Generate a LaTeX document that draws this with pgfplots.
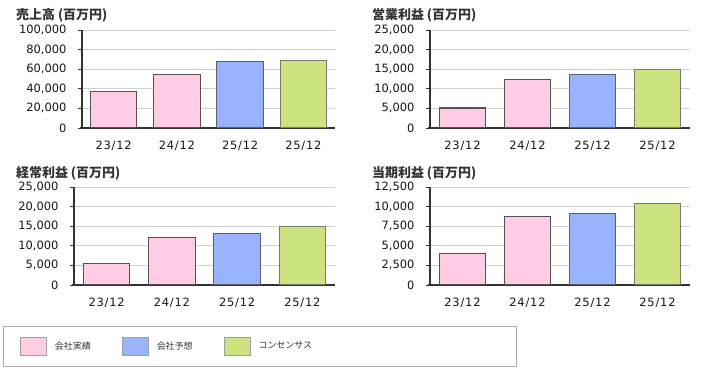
\documentclass[border=0pt]{standalone}
\usepackage{pgfplots}
\pgfplotsset{compat=1.18}
\usepackage{fontspec}
\setmainfont{DejaVu Sans}
\newfontfamily\xtf{DejaVu Sans}[LetterSpace=7]
\newfontfamily\jp{Noto Sans CJK JP}
\definecolor{pinkf}{RGB}{255,204,230}
\definecolor{bluef}{RGB}{153,179,255}
\definecolor{greenf}{RGB}{204,228,128}
\definecolor{pinkd}{RGB}{85,80,85}
\definecolor{blued}{RGB}{90,95,115}
\definecolor{greend}{RGB}{120,125,105}
\definecolor{txt}{RGB}{20,20,20}
\definecolor{axl}{RGB}{51,51,51}
\definecolor{gridc}{RGB}{208,208,208}
\pgfplotsset{
  mychart/.style={
    scale only axis, height=98bp,
    ybar, bar width=46.5bp, /pgf/bar shift=0pt,
    xmin=-0.5, xmax=3.5, xtick={0,1,2,3},
    xticklabels={23/12,24/12,25/12,25/12},
    ymin=0,
    axis lines=left,
    axis line style={-},
    x axis line style={line width=2.4bp, color=axl, shorten <=-2bp},
    y axis line style={line width=1.2bp, color=axl},
    ymajorgrids, major grid style={gridc, line width=0.8bp},
    tick align=outside,
    major tick length=4bp,
    major x tick style={draw=none},
    major y tick style={axl, line width=0.8bp},
    scaled y ticks=false,
    /pgf/number format/.cd, fixed, precision=0, 1000 sep={,}, assume math mode=true, /pgfplots/.cd,
    yticklabel style={font=\fontsize{11.5}{12}\selectfont, text=txt, xshift=-8bp},
    xticklabel style={font=\xtf\fontsize{11.5}{12}\selectfont, text=txt, yshift=-5bp},
    legend image code/.code={\draw[#1, draw=gray!75, line width=0.8bp] (0bp,-9bp) rectangle (26bp,9bp);},
  },
  pinkbar/.style={fill=pinkf, draw=pinkd, line width=1.1bp},
  bluebar/.style={fill=bluef, draw=blued, line width=1.1bp},
  greenbar/.style={fill=greenf, draw=greend, line width=1.1bp},
}
\newcommand{\ttl}[1]{{\jp\bfseries\fontsize{13}{14}\selectfont\color{axl}#1}}
\begin{document}
\begin{tikzpicture}
\useasboundingbox (0,0) rectangle (708bp,374bp);
% chart 1
\begin{axis}[mychart, width=253bp, at={(82bp,246bp)}, anchor=south west,
  ymax=100000, ytick={0,20000,40000,60000,80000,100000}]
\addplot[pinkbar] coordinates {(0,37300) (1,54200)};
\addplot[bluebar] coordinates {(2,67800)};
\addplot[greenbar] coordinates {(3,69200)};
\end{axis}
\node[anchor=west, inner sep=0] at (16bp,359bp) {\ttl{売上高 (百万円)}};
% chart 2
\begin{axis}[mychart, width=260bp, at={(430bp,246bp)}, anchor=south west,
  ymax=25000, ytick={0,5000,10000,15000,20000,25000}]
\addplot[pinkbar] coordinates {(0,5100) (1,12450)};
\addplot[bluebar] coordinates {(2,13550)};
\addplot[greenbar] coordinates {(3,15000)};
\end{axis}
\node[anchor=west, inner sep=0] at (372bp,359bp) {\ttl{営業利益 (百万円)}};
% chart 3
\begin{axis}[mychart, width=261bp, at={(74bp,89bp)}, anchor=south west,
  ymax=25000, ytick={0,5000,10000,15000,20000,25000},
  legend columns=3,
  legend style={at={(-0.2069,-0.6224)}, anchor=west, draw=none, fill=none, inner sep=0pt,
    font=\jp\fontsize{9}{10}\selectfont, text=axl,
    /tikz/every odd column/.append style={column sep=6bp}},
  legend cell align=left]
\addplot[pinkbar] coordinates {(0,5550) (1,12200)};
\addlegendentry{\makebox[65bp][l]{会社実績}}
\addplot[bluebar] coordinates {(2,13050)};
\addlegendentry{\makebox[65bp][l]{会社予想}}
\addplot[greenbar] coordinates {(3,14850)};
\addlegendentry{\makebox[65bp][l]{コンセンサス}}
\end{axis}
\node[anchor=west, inner sep=0] at (16bp,201bp) {\ttl{経常利益 (百万円)}};
% chart 4
\begin{axis}[mychart, width=260bp, at={(430bp,89bp)}, anchor=south west,
  ymax=12500, ytick={0,2500,5000,7500,10000,12500}]
\addplot[pinkbar] coordinates {(0,4050) (1,8700)};
\addplot[bluebar] coordinates {(2,9090)};
\addplot[greenbar] coordinates {(3,10410)};
\end{axis}
\node[anchor=west, inner sep=0] at (372bp,201bp) {\ttl{当期利益 (百万円)}};
% legend frame
\draw[gray!65, line width=0.8bp] (3.5bp,48bp) rectangle (516.5bp,7.5bp);
\end{tikzpicture}
\end{document}
